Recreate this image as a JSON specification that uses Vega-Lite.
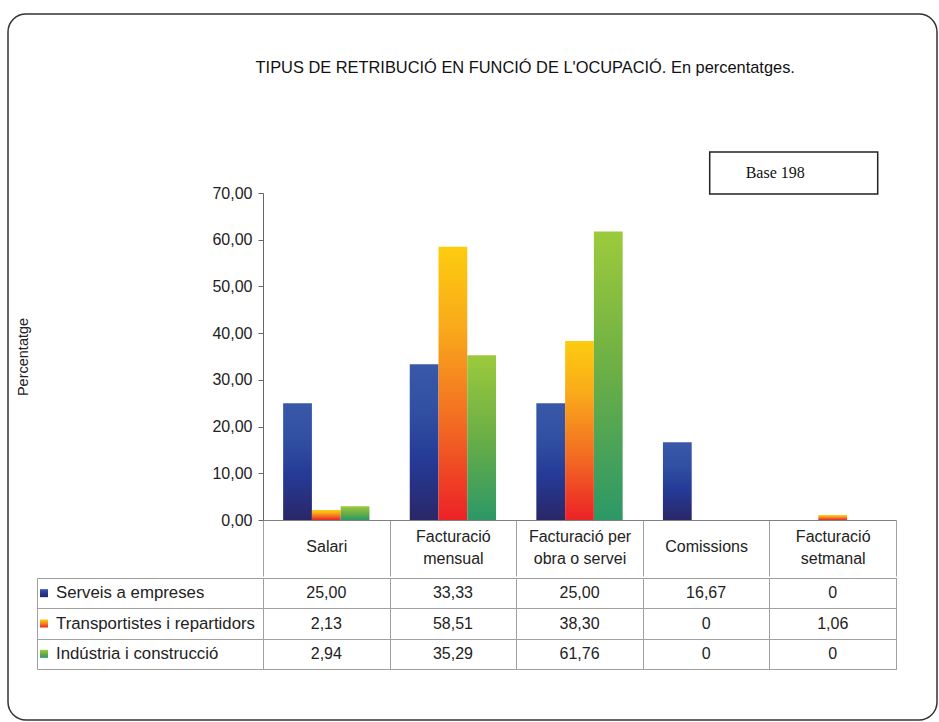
{
  "padding": {"left": 7, "top": 13, "right": 0, "bottom": 0},
  "config": {
    "font": "Liberation Sans",
    "locale": {"number": {"decimal": ",", "thousands": ".", "grouping": [3], "currency": ["", " €"]}},
    "view": {"stroke": null},
    "axis": {"labelFont": "Liberation Sans", "titleFont": "Liberation Sans", "labelColor": "#222222", "titleColor": "#222222"},
    "text": {"font": "Liberation Sans"}
  },
  "datasets": {
    "vals": [
      {"cat": "Salari", "serie": "Serveis a empreses", "value": 25.00},
      {"cat": "Facturació mensual", "serie": "Serveis a empreses", "value": 33.33},
      {"cat": "Facturació per obra o servei", "serie": "Serveis a empreses", "value": 25.00},
      {"cat": "Comissions", "serie": "Serveis a empreses", "value": 16.67},
      {"cat": "Facturació setmanal", "serie": "Serveis a empreses", "value": 0},
      {"cat": "Salari", "serie": "Transportistes i repartidors", "value": 2.13},
      {"cat": "Facturació mensual", "serie": "Transportistes i repartidors", "value": 58.51},
      {"cat": "Facturació per obra o servei", "serie": "Transportistes i repartidors", "value": 38.30},
      {"cat": "Comissions", "serie": "Transportistes i repartidors", "value": 0},
      {"cat": "Facturació setmanal", "serie": "Transportistes i repartidors", "value": 1.06},
      {"cat": "Salari", "serie": "Indústria i construcció", "value": 2.94},
      {"cat": "Facturació mensual", "serie": "Indústria i construcció", "value": 35.29},
      {"cat": "Facturació per obra o servei", "serie": "Indústria i construcció", "value": 61.76},
      {"cat": "Comissions", "serie": "Indústria i construcció", "value": 0},
      {"cat": "Facturació setmanal", "serie": "Indústria i construcció", "value": 0}
    ],
    "series": [
      {"serie": "Serveis a empreses"},
      {"serie": "Transportistes i repartidors"},
      {"serie": "Indústria i construcció"}
    ],
    "box": [{"cat": "Facturació setmanal", "label": "Base 198"}]
  },
  "spacing": -662,
  "align": "none",
  "vconcat": [
    {
      "width": 929,
      "height": 706,
      "data": {"name": "box"},
      "mark": {"type": "point", "opacity": 0},
      "encoding": {},
      "view": {"stroke": "#333333", "strokeWidth": 1.5, "cornerRadius": 18, "fill": null}
    },
    {
      "title": {"text": "TIPUS DE RETRIBUCIÓ EN FUNCIÓ DE L'OCUPACIÓ. En percentatges.", "font": "Liberation Sans", "fontSize": 16.4, "fontWeight": "normal", "color": "#111111", "anchor": "middle", "frame": "bounds", "dx": 73, "offset": 75},
      "spacing": 0,
      "vconcat": [
        {
          "bounds": "flush",
          "spacing": 0,
          "hconcat": [
            {
              "width": 255, "height": 327,
              "data": {"name": "box"},
              "mark": {"type": "point", "opacity": 0},
              "encoding": {}
            },
            {
              "width": 633, "height": 327,
              "layer": [
                {
                  "data": {"name": "vals"},
                  "transform": [{"filter": "datum.serie == 'Serveis a empreses'"}],
                  "mark": {"type": "bar", "color": {"gradient": "linear", "x1": 0, "y1": 1, "x2": 0, "y2": 0, "stops": [
                    {"offset": 0, "color": "#2a2768"}, {"offset": 0.38, "color": "#253a96"}, {"offset": 0.7, "color": "#3150a2"}, {"offset": 1, "color": "#3a58a8"}]}},
                  "encoding": {
                    "x": {
                      "field": "cat", "type": "nominal",
                      "sort": ["Salari", "Facturació mensual", "Facturació per obra o servei", "Comissions", "Facturació setmanal"],
                      "scale": {"domain": ["Salari", "Facturació mensual", "Facturació per obra o servei", "Comissions", "Facturació setmanal"], "paddingInner": 0, "paddingOuter": 0},
                      "axis": {
                        "title": null, "labelAngle": 0, "tickBand": "extent", "tickSize": 56,
                        "tickColor": "#a0a0a0", "domainColor": "#808080",
                        "labelPadding": {"condition": {"test": "datum.value == 'Salari' || datum.value == 'Comissions'", "value": -30}, "value": -40},
                        "labelBaseline": "middle", "labelLineHeight": 22, "labelFontSize": 16, "labelLimit": 0,
                        "labelExpr": "datum.value == 'Facturació mensual' ? ['Facturació', 'mensual'] : datum.value == 'Facturació per obra o servei' ? ['Facturació per', 'obra o servei'] : datum.value == 'Facturació setmanal' ? ['Facturació', 'setmanal'] : datum.value"
                      }
                    },
                    "y": {
                      "field": "value", "type": "quantitative",
                      "scale": {"domain": [0, 70]},
                      "axis": {
                        "title": "Percentatge", "values": [0, 10, 20, 30, 40, 50, 60, 70], "format": ".2f",
                        "grid": false, "tickSize": 5, "tickColor": "#666666", "domainColor": "#666666",
                        "labelPadding": 6, "labelFontSize": 16, "titleFontSize": 14.5, "titleFontWeight": "normal",
                        "titlePadding": 181
                      }
                    },
                    "xOffset": {"field": "serie", "type": "nominal",
                      "scale": {"domain": ["Serveis a empreses", "Transportistes i repartidors", "Indústria i construcció"], "paddingOuter": 0.7, "paddingInner": 0}}
                  }
                },
                {
                  "data": {"name": "vals"},
                  "transform": [{"filter": "datum.serie == 'Transportistes i repartidors'"}],
                  "mark": {"type": "bar", "color": {"gradient": "linear", "x1": 0, "y1": 1, "x2": 0, "y2": 0, "stops": [
                    {"offset": 0, "color": "#ec2227"}, {"offset": 0.35, "color": "#f26a22"}, {"offset": 0.7, "color": "#f9a91b"}, {"offset": 1, "color": "#fdcc0f"}]}},
                  "encoding": {
                    "x": {"field": "cat", "type": "nominal", "sort": ["Salari", "Facturació mensual", "Facturació per obra o servei", "Comissions", "Facturació setmanal"]},
                    "y": {"field": "value", "type": "quantitative"},
                    "xOffset": {"field": "serie", "type": "nominal"}
                  }
                },
                {
                  "data": {"name": "vals"},
                  "transform": [{"filter": "datum.serie == 'Indústria i construcció'"}],
                  "mark": {"type": "bar", "color": {"gradient": "linear", "x1": 0, "y1": 1, "x2": 0, "y2": 0, "stops": [
                    {"offset": 0, "color": "#2c9867"}, {"offset": 0.5, "color": "#6aae46"}, {"offset": 1, "color": "#9cca3c"}]}},
                  "encoding": {
                    "x": {"field": "cat", "type": "nominal", "sort": ["Salari", "Facturació mensual", "Facturació per obra o servei", "Comissions", "Facturació setmanal"]},
                    "y": {"field": "value", "type": "quantitative"},
                    "xOffset": {"field": "serie", "type": "nominal"}
                  }
                },
                {
                  "data": {"name": "box"},
                  "mark": {"type": "rect", "width": 168, "fill": "white", "stroke": "#222222", "strokeWidth": 1.5, "xOffset": -39},
                  "encoding": {
                    "x": {"field": "cat", "type": "nominal", "sort": ["Salari", "Facturació mensual", "Facturació per obra o servei", "Comissions", "Facturació setmanal"]},
                    "y": {"datum": 69.8, "type": "quantitative"},
                    "y2": {"datum": 78.8}
                  }
                },
                {
                  "data": {"name": "box"},
                  "mark": {"type": "text", "font": "Liberation Serif", "fontSize": 16, "color": "#111111", "dx": -57.5},
                  "encoding": {
                    "x": {"field": "cat", "type": "nominal", "sort": ["Salari", "Facturació mensual", "Facturació per obra o servei", "Comissions", "Facturació setmanal"]},
                    "y": {"datum": 74.3, "type": "quantitative"},
                    "text": {"field": "label"}
                  }
                }
              ]
            }
          ]
        },
        {
          "bounds": "flush",
          "spacing": 0,
          "hconcat": [
            {
              "width": 29, "height": 91,
              "data": {"name": "box"},
              "mark": {"type": "point", "opacity": 0},
              "encoding": {}
            },
            {
              "width": 226, "height": 91,
              "data": {"name": "series"},
              "view": {"stroke": "#a0a0a0"},
              "encoding": {
                "y": {
                  "field": "serie", "type": "nominal",
                  "sort": ["Serveis a empreses", "Transportistes i repartidors", "Indústria i construcció"],
                  "scale": {"paddingInner": 0, "paddingOuter": 0},
                  "axis": {"title": null, "labels": false, "domain": false, "ticks": false, "grid": true, "gridColor": "#a0a0a0", "tickBand": "extent"}
                },
                "x": {"datum": 0, "type": "quantitative", "scale": {"domain": [0, 1]}, "axis": null}
              },
              "layer": [
                {
                  "transform": [{"filter": "datum.serie == 'Serveis a empreses'"}],
                  "mark": {"type": "point", "shape": "square", "size": 64, "filled": true, "opacity": 1, "xOffset": 7,
                    "color": {"gradient": "linear", "x1": 0, "y1": 1, "x2": 0, "y2": 0, "stops": [
                      {"offset": 0, "color": "#2a2768"}, {"offset": 0.5, "color": "#253a96"}, {"offset": 1, "color": "#3a58a8"}]}}
                },
                {
                  "transform": [{"filter": "datum.serie == 'Transportistes i repartidors'"}],
                  "mark": {"type": "point", "shape": "square", "size": 64, "filled": true, "opacity": 1, "xOffset": 7,
                    "color": {"gradient": "linear", "x1": 0, "y1": 1, "x2": 0, "y2": 0, "stops": [
                      {"offset": 0, "color": "#ec2227"}, {"offset": 0.5, "color": "#f5841f"}, {"offset": 1, "color": "#fdcc0f"}]}}
                },
                {
                  "transform": [{"filter": "datum.serie == 'Indústria i construcció'"}],
                  "mark": {"type": "point", "shape": "square", "size": 64, "filled": true, "opacity": 1, "xOffset": 7,
                    "color": {"gradient": "linear", "x1": 0, "y1": 1, "x2": 0, "y2": 0, "stops": [
                      {"offset": 0, "color": "#2c9867"}, {"offset": 0.5, "color": "#6aae46"}, {"offset": 1, "color": "#9cca3c"}]}}
                },
                {
                  "mark": {"type": "text", "align": "left", "baseline": "middle", "fontSize": 16.8, "color": "#222222", "dx": 19},
                  "encoding": {"text": {"field": "serie"}}
                }
              ]
            },
            {
              "width": 633, "height": 91,
              "data": {"name": "vals"},
              "view": {"stroke": "#a0a0a0"},
              "mark": {"type": "text", "fontSize": 16, "color": "#222222", "baseline": "middle"},
              "encoding": {
                "x": {
                  "field": "cat", "type": "nominal",
                  "sort": ["Salari", "Facturació mensual", "Facturació per obra o servei", "Comissions", "Facturació setmanal"],
                  "scale": {"paddingInner": 0, "paddingOuter": 0},
                  "axis": {"title": null, "labels": false, "ticks": false, "domain": false, "grid": true, "gridColor": "#a0a0a0", "tickBand": "extent"}
                },
                "y": {
                  "field": "serie", "type": "nominal",
                  "sort": ["Serveis a empreses", "Transportistes i repartidors", "Indústria i construcció"],
                  "scale": {"paddingInner": 0, "paddingOuter": 0},
                  "axis": {"title": null, "labels": false, "ticks": false, "domain": false, "grid": true, "gridColor": "#a0a0a0", "tickBand": "extent"}
                },
                "text": {
                  "condition": {"test": "datum.value == 0", "value": "0"},
                  "field": "value", "type": "quantitative", "format": ".2f"
                }
              }
            }
          ]
        }
      ]
    }
  ]
}
